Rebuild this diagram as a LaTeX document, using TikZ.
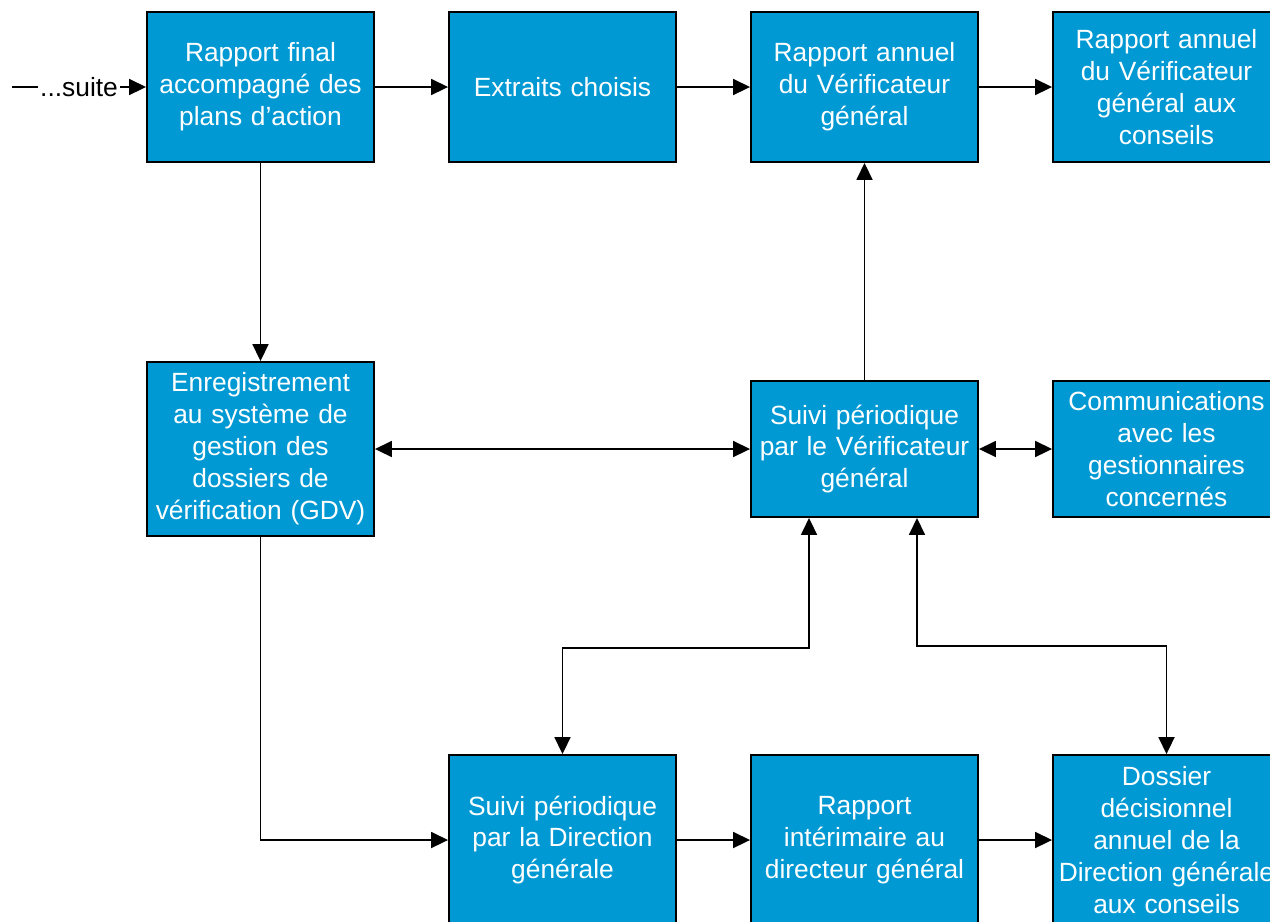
\documentclass[tikz,border=0pt]{standalone}
\usepackage{fontspec}
\setmainfont{Liberation Sans}
\usetikzlibrary{arrows.meta,positioning,calc}
\definecolor{Box}{HTML}{0099D3}

\begin{document}
\begin{tikzpicture}[x=0.02cm,y=-0.02cm,
    etape/.style={draw=black,line width=1.1pt,fill=Box,text=white,
      minimum width=4.54cm,text width=4.38cm,inner sep=0.08cm,align=center,
      font=\fontsize{15}{18.2}\selectfont},
    fl/.style={line width=1pt,-{Triangle[length=0.34cm,width=0.32cm]}},
    fl2/.style={line width=1pt,{Triangle[length=0.34cm,width=0.32cm]}-{Triangle[length=0.34cm,width=0.32cm]}}]
        \clip (0,0) rectangle (1270,921);
        \node[etape,minimum height=3cm] (final) at (260.5,87)
          {Rapport final\\accompagné des\\plans d’action};
        \node[etape,minimum height=3cm] (extraits) at (562.5,87) {Extraits choisis};
        \node[etape,minimum height=3cm] (annuel) at (864.5,87)
          {Rapport annuel\\du Vérificateur\\général};
        \node[etape,minimum height=3cm] (conseils) at (1166.5,87)
          {Rapport annuel\\du Vérificateur\\général aux\\conseils};
        \node[etape,minimum height=3.48cm] (gdv) at (260.5,449)
          {Enregistrement\\au système de\\gestion des\\dossiers de\\vérification (GDV)};
        \node[etape,minimum height=2.72cm] (suiviVG) at (864.5,449)
          {Suivi périodique\\par le Vérificateur\\général};
        \node[etape,minimum height=2.72cm] (comm) at (1166.5,449)
          {Communications\\avec les\\gestionnaires\\concernés};
        \node[etape,minimum height=3.4cm] (suiviDG) at (562.5,840)
          {Suivi périodique\\par la Direction\\générale};
        \node[etape,minimum height=3.4cm] (interim) at (864.5,840)
          {Rapport\\intérimaire au\\directeur général};
        \node[etape,minimum height=3.4cm] (dossier) at (1166.5,840)
          {Dossier\\décisionnel\\annuel de la\\Direction générale\\aux conseils};
        \coordinate (suite) at (12,87);
        \draw[fl] (suite) -- node[fill=white,inner sep=1pt,
          font=\fontsize{15}{18.2}\selectfont] {...suite} (final.west);
        \draw[fl] (final) -- (extraits);
        \draw[fl] (extraits) -- (annuel);
        \draw[fl] (annuel) -- (conseils);
        \draw[fl] (final) -- (gdv);
        \draw[fl2] (gdv) -- (suiviVG);
        \draw[fl] (suiviVG) -- (annuel);
        \draw[fl2] (suiviVG) -- (comm);
        \draw[fl] (gdv.south) |- (suiviDG.west);
        \draw[fl2] ([xshift=-1.11cm]suiviVG.south) -- ++(0,130) -| (suiviDG.north);
        \draw[fl2] ([xshift=1.05cm]suiviVG.south) -- ++(0,128) -| (dossier.north);
        \draw[fl] (suiviDG) -- (interim);
        \draw[fl] (interim) -- (dossier);
      \end{tikzpicture}
\end{document}
